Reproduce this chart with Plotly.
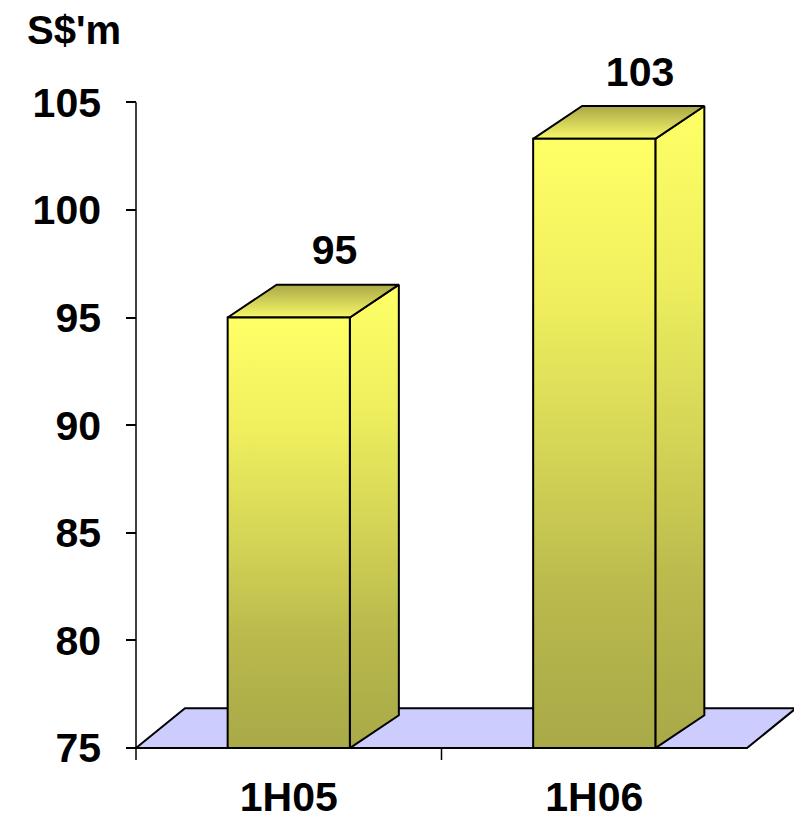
import plotly.graph_objects as go

# ---- data ----
categories = ["1H05", "1H06"]
values = [95.0, 103.3]
value_labels = ["95", "103"]
y_ticks = [75, 80, 85, 90, 95, 100, 105]
unit_label = "S$'m"

# ---- styling / geometry (screen pixels; page body has an 8px margin) ----
OFF = 8
W, H = 802 - OFF, 820 - OFF
AXIS_X_PIX = 136 - OFF      # pixel where x = -0.5
BASE_PIX = 751 - OFF        # pixel where y = 75
ML = AXIS_X_PIX - 10
MR = 0
MT = 30
MB = H - (BASE_PIX + 19)

X_PX = 305.5          # pixels per category unit
Y_PX = 21.617         # pixels per value unit
Y_BASE = 75
Y_TOP = 105

plot_w = W - ML - MR
plot_h = H - MT - MB
x_lo = -0.5 - (AXIS_X_PIX - ML) / X_PX
x_hi = x_lo + plot_w / X_PX
y_lo = Y_BASE - ((H - MB) - BASE_PIX) / Y_PX
y_hi = y_lo + plot_h / Y_PX

HALF_W = 0.2
BAR_DX = 49 / X_PX
BAR_DY = 33 / Y_PX
FLOOR_DX = 49 / X_PX
FLOOR_DY = 40 / Y_PX
TICK_DOWN = 12 / Y_PX
LABEL_UP = 2.95

FONT = "Liberation Sans"
FS = 41

front_scale = [[0, "#A9A948"], [0.25, "#B9B94D"], [0.5, "#D6D657"], [0.75, "#F0F05F"], [1, "#FFFF66"]]
top_scale = [[0, "#F8F86A"], [1, "#A9A846"]]
OUT = dict(color="black", width=2)

fig = go.Figure()

# floor
fig.add_trace(go.Scatter(
    x=[-0.5, 1.5, 1.5 + FLOOR_DX, -0.5 + FLOOR_DX, -0.5],
    y=[Y_BASE, Y_BASE, Y_BASE + FLOOR_DY, Y_BASE + FLOOR_DY, Y_BASE],
    mode="lines", fill="toself", fillcolor="#CCCCFF", line=OUT,
    hoverinfo="skip", showlegend=False))

for i, v in enumerate(values):
    x0, x1 = i - HALF_W, i + HALF_W
    # side face
    fig.add_trace(go.Scatter(
        x=[x1, x1 + BAR_DX, x1 + BAR_DX, x1, x1],
        y=[Y_BASE, Y_BASE + BAR_DY, v + BAR_DY, v, Y_BASE],
        mode="lines", fill="toself",
        fillgradient=dict(type="vertical", colorscale=front_scale),
        line=OUT, hoverinfo="skip", showlegend=False))
    # top face
    fig.add_trace(go.Scatter(
        x=[x0, x1, x1 + BAR_DX, x0 + BAR_DX, x0],
        y=[v, v, v + BAR_DY, v + BAR_DY, v],
        mode="lines", fill="toself",
        fillgradient=dict(type="vertical", colorscale=top_scale),
        line=OUT, hoverinfo="skip", showlegend=False))
    # front face
    fig.add_trace(go.Scatter(
        x=[x0, x1, x1, x0, x0],
        y=[Y_BASE, Y_BASE, v, v, Y_BASE],
        mode="lines", fill="toself",
        fillgradient=dict(type="vertical", colorscale=front_scale),
        line=OUT, hoverinfo="skip", showlegend=False))

# value labels
fig.add_trace(go.Scatter(
    x=[i + 0.15 for i in range(len(values))],
    y=[v + LABEL_UP for v in values],
    mode="text", text=value_labels, textposition="middle center",
    textfont=dict(family=FONT, size=FS, color="black", weight="bold"),
    cliponaxis=False, hoverinfo="skip", showlegend=False))

# axis lines as shapes
shapes = [
    dict(type="line", xref="x", yref="y", x0=-0.5, x1=-0.5, y0=Y_BASE - TICK_DOWN, y1=Y_TOP,
         line=dict(color="black", width=1.5), layer="above"),
    dict(type="line", xref="x", yref="y", x0=-0.5, x1=1.5, y0=Y_BASE, y1=Y_BASE,
         line=dict(color="black", width=1.5), layer="above"),
    dict(type="line", xref="x", yref="y", x0=0.5, x1=0.5, y0=Y_BASE - TICK_DOWN, y1=Y_BASE,
         line=dict(color="black", width=1.5), layer="above"),
]

# unit label position (screen px -> paper coords)
unit_px, unit_py = 25 - OFF, 30 - OFF
unit_xp = (unit_px - ML) / plot_w
unit_yp = ((H - MB) - unit_py) / plot_h

fig.update_layout(
    width=W, height=H,
    margin=dict(l=ML, r=MR, t=MT, b=MB, pad=0),
    plot_bgcolor="white", paper_bgcolor="white",
    showlegend=False,
    shapes=shapes,
    xaxis=dict(range=[x_lo, x_hi], tickvals=list(range(len(categories))), ticktext=categories,
               showgrid=False, zeroline=False, showline=False, ticks="",
               tickfont=dict(family=FONT, size=FS, color="black", weight="bold"),
               ticklabelstandoff=2),
    yaxis=dict(range=[y_lo, y_hi], tickvals=y_ticks, ticktext=[str(t) for t in y_ticks],
               showgrid=False, zeroline=False, showline=False,
               ticks="inside", ticklen=10, tickwidth=1.5, tickcolor="black",
               tickfont=dict(family=FONT, size=FS, color="black", weight="bold"),
               ticklabelstandoff=24),
    annotations=[dict(text=unit_label, xref="paper", yref="paper", x=unit_xp, y=unit_yp,
                      xanchor="left", yanchor="middle", showarrow=False,
                      font=dict(family=FONT, size=FS - 1, color="black", weight="bold"))],
)

fig.write_html("out.html")
